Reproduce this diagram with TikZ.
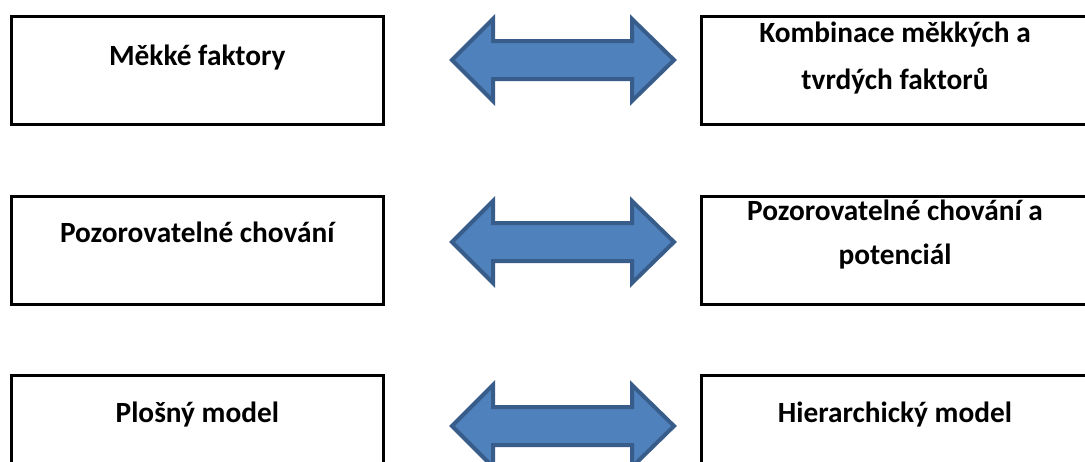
\documentclass[tikz,border=0pt]{standalone}
\usepackage{fontspec}
\setmainfont{Carlito}
\usetikzlibrary{calc}

\definecolor{arrowfill}{HTML}{4F81BD}
\definecolor{arrowedge}{HTML}{385D8A}

\tikzset{
  box/.style={draw=black, line width=2.25pt, rectangle, inner sep=0pt,
    minimum width=279.5pt, minimum height=81pt},
  widebox/.style={box, minimum width=291pt},
  lbl/.style={font=\fontsize{22}{30}\selectfont\bfseries, inner sep=0pt, anchor=base},
  arrowbody/.style={fill=arrowfill, draw=arrowedge, line width=3pt, line join=miter},
  twoway/.pic={
    \filldraw[arrowbody] (-111,0) -- (-70,-41) -- (-70,-19) -- (69,-19) -- (69,-41)
      -- (111,0) -- (69,41) -- (69,19) -- (-70,19) -- (-70,41) -- cycle;
  }
}

\begin{document}
\begin{tikzpicture}[x=0.75pt, y=-0.75pt]
  \useasboundingbox (0,0) rectangle (1085,461);
  \fill[white] (0,0) rectangle (1085,461);
  \clip (0,0) rectangle (1085,461);

  % left column
  \node[box, anchor=north west] (L1) at (9.5,14.5) {};
  \node[box, anchor=north west] (L2) at (9.5,194.5) {};
  \node[box, anchor=north west] (L3) at (9.5,373.5) {};

  % right column
  \node[widebox, anchor=north west] (R1) at (699.5,14.5) {};
  \node[widebox, anchor=north west] (R2) at (699.5,194.5) {};
  \node[widebox, anchor=north west] (R3) at (699.5,373.5) {};

  % two-way arrows between the columns
  \coordinate (A1) at (563,60);
  \coordinate (A2) at (563,242);
  \coordinate (A3) at (563,426);
  \pic at (A1) {twoway};
  \pic at (A2) {twoway};
  \pic at (A3) {twoway};

  % labels
  \node[lbl] (tL1) at ($(L1.north)+(0,51)$) {Měkké faktory};
  \node[lbl] (tL2) at ($(L2.north)+(0,48)$) {Pozorovatelné chování};
  \node[lbl] (tL3) at ($(L3.north)+(0,49)$) {Plošný model};

  \node[lbl] (tR1a) at ($(R1.north)+(0,28)$) {Kombinace měkkých a};
  \node[lbl] (tR1b) at ($(R1.north)+(0,75)$) {tvrdých faktorů};
  \node[lbl] (tR2a) at ($(R2.north)+(0,26)$) {Pozorovatelné chování a};
  \node[lbl] (tR2b) at ($(R2.north)+(0,70)$) {potenciál};
  \node[lbl] (tR3) at ($(R3.north)+(0,49)$) {Hierarchický model};
\end{tikzpicture}
\end{document}
